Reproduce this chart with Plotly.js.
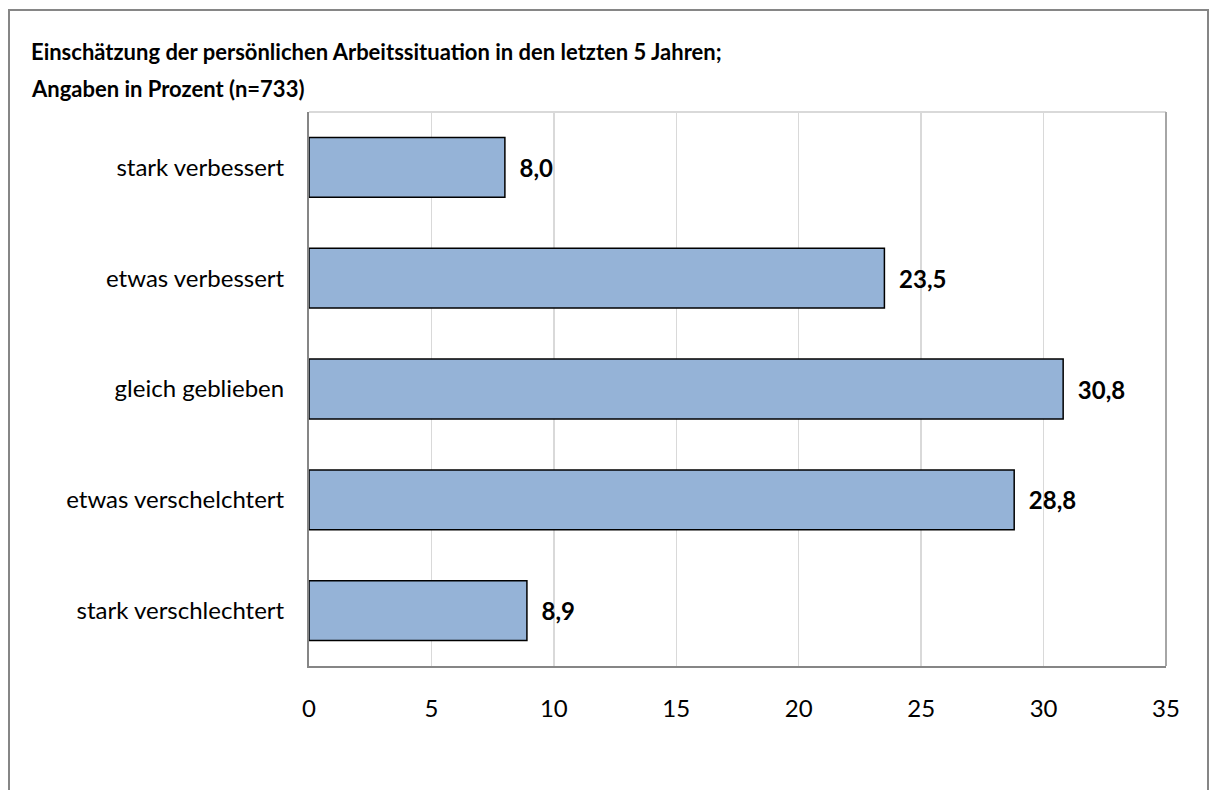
<!DOCTYPE html>
<html>
<head>
<meta charset="utf-8">
<script src="https://cdn.plot.ly/plotly-3.0.1.min.js"></script>
<style>
html,body{margin:0;padding:0;background:#fff;}
#chart{width:1217px;height:790px;}
</style>
</head>
<body>
<div id="chart"></div>
<script>
var categories = ["stark verbessert", "etwas verbessert", "gleich geblieben", "etwas verschelchtert", "stark verschlechtert"];
var values = [8.0, 23.5, 30.8, 28.8, 8.9];
var xTicks = [0, 5, 10, 15, 20, 25, 30, 35];
var titleLine1 = "<b>Einschätzung der persönlichen Arbeitssituation in den letzten 5 Jahren;</b>";
var titleLine2 = "<b>Angaben in Prozent (n=733)</b>";

var fontFam = "Lato, 'Open Sans', sans-serif";

var trace = {
  type: "bar",
  orientation: "h",
  y: categories,
  x: values,
  width: 0.54,
  marker: {color: "#95B3D7", line: {color: "#000000", width: 1.5}},
  text: values.map(function(v){ return v.toFixed(1).replace(".", ","); }),
  texttemplate: "  %{text}",
  textposition: "outside",
  cliponaxis: false,
  textfont: {family: fontFam, size: 24, color: "#000", weight: "bold"},
  hoverinfo: "skip"
};

var L = 309, R = 51, T = 112, B = 124;
var W = 1217 - L - R, H = 790 - T - B;
function px(x){ return (x - L) / W; }
function py(y){ return (790 - B - y) / H; }

var layout = {
  width: 1217, height: 790,
  margin: {l: L, r: R, t: T, b: B, pad: 0},
  paper_bgcolor: "#fff", plot_bgcolor: "#fff",
  separators: ",.",
  showlegend: false,
  font: {family: fontFam, size: 24, color: "#000"},
  title: {
    text: titleLine1,
    x: 31/1217, xref: "container", xanchor: "left",
    y: 1 - 52/790, yref: "container", yanchor: "middle",
    font: {family: fontFam, size: 22, color: "#000"}
  },
  annotations: [
    {text: titleLine2, xref: "paper", yref: "paper", x: px(33), y: py(88),
     xanchor: "left", yanchor: "middle", showarrow: false, borderpad: 0, xshift: -3,
     font: {family: fontFam, size: 22, color: "#000"}}
  ],
  xaxis: {
    range: [0, 35],
    tickvals: xTicks,
    ticktext: xTicks.map(String),
    showgrid: true, gridcolor: "#d9d9d9", gridwidth: 1.5,
    zeroline: false,
    showline: true, linecolor: "#868686", linewidth: 2,
    ticks: "", ticklabelstandoff: 20,
    tickfont: {family: fontFam, size: 24, color: "#000"},
    fixedrange: true
  },
  yaxis: {
    autorange: false,
    range: [4.5, -0.5],
    showgrid: false, zeroline: false,
    showline: true, linecolor: "#868686", linewidth: 2,
    ticks: "", ticklabelstandoff: 18,
    tickfont: {family: fontFam, size: 24, color: "#000"},
    fixedrange: true
  },
  shapes: [
    {type: "line", xref: "paper", yref: "paper", x0: 0, x1: 1, y0: 1, y1: 1, line: {color: "#d9d9d9", width: 2}},
    {type: "line", xref: "paper", yref: "paper", x0: 1, x1: 1, y0: 0, y1: 1, line: {color: "#a6a6a6", width: 2}},
    {type: "rect", xref: "paper", yref: "paper", x0: px(9), x1: px(1208), y0: py(10), y1: py(820), line: {color: "#868686", width: 2}, fillcolor: "rgba(0,0,0,0)", layer: "below"}
  ]
};

Plotly.newPlot("chart", [trace], layout, {displayModeBar: false, staticPlot: true});
</script>
</body>
</html>
